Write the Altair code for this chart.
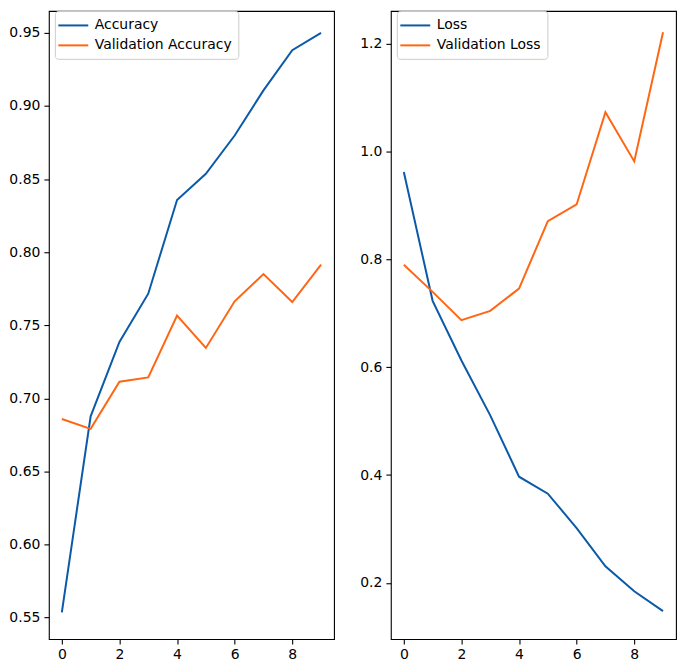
import altair as alt
import pandas as pd

epochs = list(range(10))
accuracy = [0.5536, 0.6877, 0.7386, 0.7716, 0.8357, 0.8536, 0.8798, 0.9107, 0.9382, 0.9500]
val_accuracy = [0.6859, 0.6791, 0.7114, 0.7143, 0.7566, 0.7345, 0.7664, 0.7850, 0.7659, 0.7914]
loss = [0.9617, 0.7230, 0.6124, 0.5107, 0.3970, 0.3655, 0.3017, 0.2309, 0.1846, 0.1477]
val_loss = [0.7900, 0.7396, 0.6872, 0.7044, 0.7457, 0.8708, 0.9017, 1.0727, 0.9815, 1.2210]

acc_names = ["Accuracy", "Validation Accuracy"]
loss_names = ["Loss", "Validation Loss"]
acc_ticks = [0.55, 0.60, 0.65, 0.70, 0.75, 0.80, 0.85, 0.90, 0.95]
loss_ticks = [0.2, 0.4, 0.6, 0.8, 1.0, 1.2]
x_ticks = [0, 2, 4, 6, 8]

BLUE = "#0b5aa8"
ORANGE = "#ff6613"

acc_df = pd.DataFrame({
    "epoch": epochs * 2,
    "value": accuracy + val_accuracy,
    "series": [acc_names[0]] * 10 + [acc_names[1]] * 10,
})
loss_df = pd.DataFrame({
    "epoch": epochs * 2,
    "value": loss + val_loss,
    "series": [loss_names[0]] * 10 + [loss_names[1]] * 10,
})

W, H = 286, 630


def panel(df, names, ticks, fmt, ydom):
    return alt.Chart(df).mark_line(strokeWidth=2).encode(
        x=alt.X("epoch:Q", scale=alt.Scale(domain=[-0.45, 9.45], nice=False, zero=False),
                axis=alt.Axis(values=x_ticks, title=None, format="d", labelPadding=3)),
        y=alt.Y("value:Q", scale=alt.Scale(domain=ydom, nice=False, zero=False),
                axis=alt.Axis(values=ticks, title=None, format=fmt, labelPadding=4)),
        color=alt.Color("series:N",
                        scale=alt.Scale(domain=names, range=[BLUE, ORANGE]),
                        sort=names,
                        legend=alt.Legend(title=None, orient="none", legendX=6, legendY=0)),
    ).properties(width=W, height=H)


left = panel(acc_df, acc_names, acc_ticks, ".2f", [0.5353, 0.9650])
right = panel(loss_df, loss_names, loss_ticks, ".1f", [0.0959, 1.2604])

chart = alt.hconcat(left, right, spacing=24).resolve_scale(color="independent").properties(
    padding=0
).configure_view(
    stroke="#000000", strokeWidth=1.1
).configure_axis(
    labelFont="DejaVu Sans", labelFontSize=14, labelColor="#000000",
    tickColor="#000000", tickSize=5, tickWidth=1.1, domain=False, grid=False
).configure_legend(
    labelFont="DejaVu Sans", labelFontSize=14, labelColor="#000000",
    symbolType="M-2,0H2", symbolSize=225, symbolStrokeWidth=2,
    padding=6, strokeColor="#cccccc", fillColor="rgba(255,255,255,0.8)",
    cornerRadius=3, rowPadding=4, labelOffset=13, symbolOffset=4
)

chart.save("out.html", embed_options={"renderer": "svg", "actions": False})
